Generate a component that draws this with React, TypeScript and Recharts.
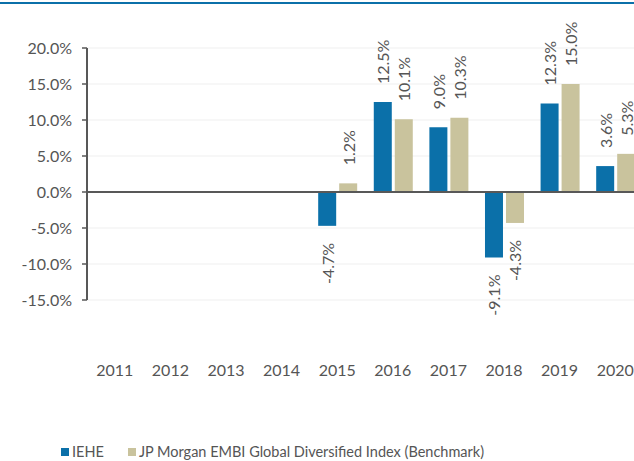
import React from "react";
import {
  BarChart, Bar, XAxis, YAxis, CartesianGrid, ReferenceLine, Legend, LabelList,
} from "recharts";

const years = ["2011", "2012", "2013", "2014", "2015", "2016", "2017", "2018", "2019", "2020"];
const iehe: (number | null)[] = [null, null, null, null, -4.7, 12.5, 9.0, -9.1, 12.3, 3.6];
const benchmark: (number | null)[] = [null, null, null, null, 1.2, 10.1, 10.3, -4.3, 15.0, 5.3];
const yTicks = [-15, -10, -5, 0, 5, 10, 15, 20];

const data = years.map((year, i) => ({ year, iehe: iehe[i], benchmark: benchmark[i] }));

const FONT = "Lato, 'Open Sans', sans-serif";
const BLUE = "#0b70a9";
const TAN = "#c9c39d";
const AXIS = "#585858";
const TEXT = "#555555";

function BarLabel(props: any) {
  const { x, y, width, height, value } = props;
  if (value == null) return null;
  const top = Math.min(y, y + height);
  const bottom = Math.max(y, y + height);
  const cx = x + width / 2;
  const positive = value >= 0;
  const ly = positive ? top - 18 : bottom + 17;
  return (
    <text
      x={cx}
      y={ly}
      transform={`rotate(-90 ${cx} ${ly})`}
      textAnchor={positive ? "start" : "end"}
      dominantBaseline="central"
      fontSize={16}
      fontFamily={FONT}
      fill={TEXT}
    >
      {`${value.toFixed(1)}%`}
    </text>
  );
}

function LegendContent() {
  const items = [
    { name: "IEHE", color: BLUE },
    { name: "JP Morgan EMBI Global Diversified Index (Benchmark)", color: TAN },
  ];
  return (
    <div style={{ display: "flex", paddingLeft: 61, fontFamily: FONT, fontSize: 14.5, color: TEXT }}>
      {items.map((it, i) => (
        <div key={it.name} style={{ display: "flex", alignItems: "center", marginRight: i === 0 ? 24 : 0 }}>
          <span style={{ width: 8, height: 8, background: it.color, marginRight: 3, display: "inline-block" }} />
          <span>{it.name}</span>
        </div>
      ))}
    </div>
  );
}

export default function App() {
  return (
    <div style={{ position: "absolute", left: 0, top: 0, width: 634, height: 461, overflow: "hidden", background: "#fff" }}>
      <div style={{ position: "absolute", left: 0, top: 2, width: 634, height: 2, background: BLUE }} />
      <BarChart
        width={660}
        height={461}
        data={data}
        margin={{ top: 48, right: 17, bottom: 0, left: 0 }}
        barCategoryGap="15.8%"
        barGap={3}
      >
        <CartesianGrid vertical={false} stroke="#efefef" />
        <XAxis
          dataKey="year"
          axisLine={false}
          tickLine={false}
          tickMargin={59}
          height={144}
          interval={0}
          tick={{ fontSize: 16, fill: TEXT, fontFamily: FONT }}
        />
        <YAxis
          domain={[-15, 20]}
          ticks={yTicks}
          width={87}
          stroke={AXIS}
          strokeWidth={2}
          tickSize={5}
          tickMargin={10}
          tickLine={{ stroke: AXIS, strokeWidth: 1.5 }}
          tickFormatter={(v) => `${Number(v).toFixed(1)}%`}
          tick={{ fontSize: 16, fill: TEXT, fontFamily: FONT }}
        />
        <ReferenceLine y={0} stroke={AXIS} strokeWidth={2} />
        <Legend
          verticalAlign="bottom"
          content={<LegendContent />}
          wrapperStyle={{ position: "absolute", left: 0, top: 443, bottom: "auto" }}
        />
        <Bar dataKey="iehe" name="IEHE" fill={BLUE} isAnimationActive={false}>
          <LabelList dataKey="iehe" content={<BarLabel />} />
        </Bar>
        <Bar dataKey="benchmark" name="JP Morgan EMBI Global Diversified Index (Benchmark)" fill={TAN} isAnimationActive={false}>
          <LabelList dataKey="benchmark" content={<BarLabel />} />
        </Bar>
      </BarChart>
    </div>
  );
}
